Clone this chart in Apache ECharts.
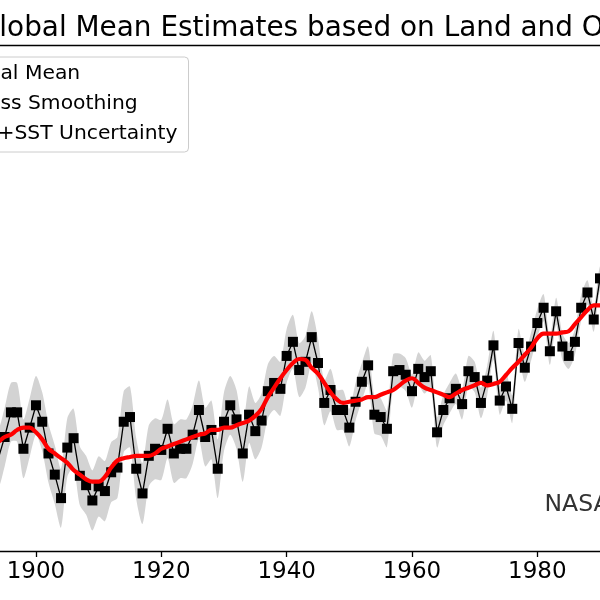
<!DOCTYPE html>
<html>
<head>
<meta charset="utf-8">
<script src="https://cdn.jsdelivr.net/npm/echarts@6.0.0/dist/echarts.min.js"></script>
<style>
    html, body { margin: 0; padding: 0; background: #fff; }
    #chart { width: 600px; height: 600px; }
</style>
</head>
<body>
<div id="chart"></div>
<script>
const firstYear = 1893;

// annual mean anomaly (°C), 1893 .. 1991
const annualMean = [
    -0.25, -0.29, -0.20, -0.095, -0.095, -0.25, -0.16, -0.065, -0.135, -0.27,
    -0.36, -0.46, -0.245, -0.205, -0.365, -0.405, -0.47, -0.41, -0.43, -0.35,
    -0.33, -0.135, -0.115, -0.335, -0.44, -0.28, -0.25, -0.255, -0.165, -0.27,
    -0.25, -0.25, -0.19, -0.085, -0.20, -0.17, -0.335, -0.135, -0.065, -0.125,
    -0.27, -0.105, -0.175, -0.13, -0.005, 0.03, 0.005, 0.145, 0.205, 0.085,
    0.12, 0.225, 0.115, -0.055, 0.00, -0.085, -0.085, -0.16, -0.05, 0.035,
    0.105, -0.105, -0.115, -0.165, 0.08, 0.085, 0.065, -0.005, 0.09, 0.055,
    0.08, -0.18, -0.085, -0.035, 0.005, -0.06, 0.08, 0.055, -0.055, 0.04,
    0.19, -0.045, 0.015, -0.08, 0.20, 0.095, 0.185, 0.285, 0.35, 0.165,
    0.335, 0.185, 0.145, 0.205, 0.35, 0.415, 0.30, 0.475, 0.44,
];

// lowess smoothing (°C), 1893 .. 1991
const lowess = [
    -0.23, -0.22, -0.20, -0.19, -0.17, -0.16, -0.16, -0.18, -0.21, -0.25,
    -0.27, -0.29, -0.31, -0.34, -0.36, -0.38, -0.39, -0.39, -0.37, -0.33,
    -0.30, -0.29, -0.285, -0.28, -0.28, -0.28, -0.27, -0.25, -0.24, -0.23,
    -0.22, -0.21, -0.20, -0.19, -0.185, -0.17, -0.17, -0.16, -0.16, -0.15,
    -0.14, -0.13, -0.11, -0.08, -0.03, 0.01, 0.05, 0.085, 0.115, 0.132,
    0.128, 0.094, 0.07, 0.03, -0.01, -0.04, -0.055, -0.05, -0.045, -0.04,
    -0.03, -0.03, -0.02, -0.01, 0.00, 0.02, 0.04, 0.05, 0.03, 0.01,
    0.00, -0.01, -0.02, -0.03, -0.015, 0.00, 0.01, 0.02, 0.03, 0.02,
    0.026, 0.035, 0.064, 0.094, 0.12, 0.15, 0.18, 0.22, 0.24, 0.24,
    0.24, 0.245, 0.25, 0.28, 0.31, 0.34, 0.36, 0.36, 0.37,
];

// half width of the land+SST uncertainty band (°C), 1893 .. 1991
const uncertainty = [
    0.125, 0.125, 0.125, 0.125, 0.125, 0.125, 0.125, 0.125, 0.125, 0.125,
    0.125, 0.125, 0.125, 0.125, 0.125, 0.125, 0.128, 0.128, 0.128, 0.128,
    0.13, 0.13, 0.13, 0.13, 0.13, 0.13, 0.13, 0.128, 0.125, 0.125,
    0.125, 0.125, 0.125, 0.125, 0.125, 0.125, 0.125, 0.125, 0.125, 0.125,
    0.12, 0.12, 0.12, 0.115, 0.115, 0.115, 0.115, 0.115, 0.115, 0.115,
    0.11, 0.11, 0.105, 0.095, 0.09, 0.085, 0.085, 0.08, 0.08, 0.08,
    0.08, 0.08, 0.08, 0.078, 0.072, 0.07, 0.07, 0.07, 0.07, 0.07,
    0.068, 0.065, 0.065, 0.065, 0.065, 0.065, 0.065, 0.065, 0.065, 0.063,
    0.062, 0.06, 0.06, 0.06, 0.06, 0.06, 0.06, 0.06, 0.058, 0.058,
    0.058, 0.056, 0.055, 0.055, 0.055, 0.052, 0.052, 0.052, 0.052,
];

const xTicks = [1900, 1920, 1940, 1960, 1980];
const legendNames = ["Annual Mean", "Lowess Smoothing", "Land+SST Uncertainty"];
const titleText = "Global Mean Estimates based on Land and Ocean Data";
const creditText = "NASA GISS";

const years = annualMean.map((_, i) => firstYear + i);
const pairs = (arr) => arr.map((v, i) => [years[i], v]);

const font = "DejaVu Sans";
const chart = echarts.init(document.getElementById("chart"), null, { renderer: "canvas" });

// shaded band: annual mean +/- uncertainty, drawn as one polygon
function renderBand(params, api) {
    if (params.dataIndex !== 0) return null;
    const upper = [];
    const lower = [];
    years.forEach((yr, i) => {
        upper.push(api.coord([yr, annualMean[i] + uncertainty[i]]));
        lower.push(api.coord([yr, annualMean[i] - uncertainty[i]]));
    });
    return {
        type: "polygon",
        shape: { points: upper.concat(lower.reverse()), smooth: 0.25 },
        style: { fill: "#d3d3d3" },
        silent: true,
    };
}

chart.setOption({
    animation: false,
    backgroundColor: "#fff",
    grid: {
        left: 0,
        right: 0,
        top: 45,
        bottom: 49,
        outerBoundsMode: "none",
    },
    legend: {
        data: legendNames,
        orient: "vertical",
        left: -102,
        top: 57,
        padding: [7, 11, 8, 8],
        itemGap: 10,
        itemWidth: 36,
        itemHeight: 14,
        selectedMode: false,
        backgroundColor: "rgba(255,255,255,0.8)",
        borderColor: "#cccccc",
        borderWidth: 1,
        borderRadius: 4,
        textStyle: {
            fontFamily: font,
            fontSize: 20.3,
            color: "#000",
        },
    },
    xAxis: [
        {
            type: "value",
            min: 1894.26,
            max: 1990,
            position: "bottom",
            axisLine: { show: true, onZero: false, lineStyle: { color: "#000", width: 1.3 } },
            axisTick: {
                show: true,
                customValues: xTicks,
                length: 6,
                lineStyle: { color: "#000", width: 1.3 },
            },
            axisLabel: {
                customValues: xTicks,
                fontFamily: font,
                fontSize: 23,
                color: "#000",
                margin: 10,
                formatter: (v) => String(v),
            },
            splitLine: { show: false },
        },
        {
            type: "value",
            min: 1894.26,
            max: 1990,
            position: "top",
            axisLine: { show: true, onZero: false, lineStyle: { color: "#000", width: 1.3 } },
            axisTick: { show: false },
            axisLabel: { show: false },
            splitLine: { show: false },
        },
    ],
    yAxis: {
        type: "value",
        min: -0.685,
        max: 1.468,
        show: false,
    },
    series: [
        {
            name: legendNames[2],
            type: "custom",
            renderItem: renderBand,
            data: pairs(annualMean),
            itemStyle: { color: "#d3d3d3" },
            silent: true,
            z: 1,
        },
        {
            name: legendNames[0],
            type: "line",
            data: pairs(annualMean),
            symbol: "rect",
            symbolSize: 10,
            itemStyle: { color: "#000" },
            lineStyle: { color: "#000", width: 1.3 },
            z: 3,
        },
        {
            name: legendNames[1],
            type: "line",
            data: pairs(lowess),
            symbol: "none",
            smooth: 0.4,
            itemStyle: { color: "#ff0000" },
            lineStyle: { color: "#ff0000", width: 4.2, cap: "round", join: "round" },
            z: 4,
        },
    ],
    graphic: [
        {
            type: "text",
            x: -22.3,
            y: 28.6,
            style: {
                text: titleText,
                font: `27.9px "${font}"`,
                fill: "#000",
                verticalAlign: "middle",
            },
        },
        {
            type: "text",
            x: 544.5,
            y: 504.5,
            style: {
                text: creditText,
                font: `23.5px "${font}"`,
                fill: "#333333",
                verticalAlign: "middle",
            },
        },
    ],
});
</script>
</body>
</html>
